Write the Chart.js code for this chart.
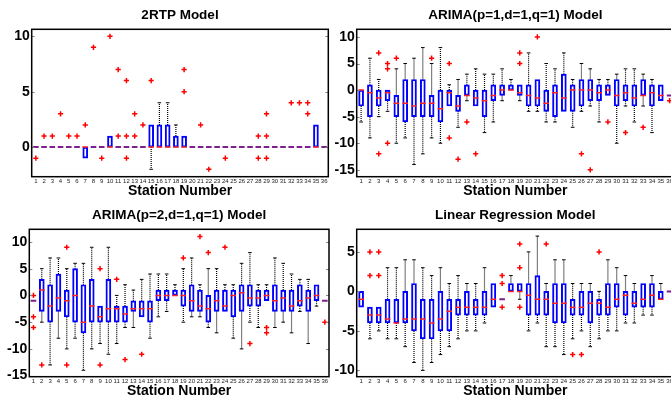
<!DOCTYPE html>
<html>
<head>
<meta charset="utf-8">
<script src="https://cdn.jsdelivr.net/npm/chart.js@4.4.1/dist/chart.umd.min.js"></script>
<style>
  html, body { margin: 0; padding: 0; background: #fff; overflow: hidden; width: 671px; height: 403px; }
  canvas { position: absolute; }
</style>
</head>
<body>
<canvas id="c1" width="335" height="200" style="left:0;top:0"></canvas>
<canvas id="c2" width="345" height="200" style="left:335px;top:0"></canvas>
<canvas id="c3" width="335" height="200" style="left:0;top:200px"></canvas>
<canvas id="c4" width="345" height="200" style="left:335px;top:200px"></canvas>
<script>
const stations = [1,2,3,4,5,6,7,8,9,10,11,12,13,14,15,16,17,18,19,20,21,22,23,24,25,26,27,28,29,30,31,32,33,34,35,36];

// 2RTP model
const rtpLo  = [0,0,0,0,0,0,-1,0,0,0,0,0,0,0,-2,0,0,0,0,0,0,0,0,0,0,0,0,0,0,0,0,0,0,0,0,0];
const rtpQ1  = [0,0,0,0,0,0,-1,0,0,0,0,0,0,0,0,0,0,0,0,0,0,0,0,0,0,0,0,0,0,0,0,0,0,0,0,0];
const rtpMed = [0,0,0,0,0,0,0,0,0,0,0,0,0,0,0,0,0,0,0,0,0,0,0,0,0,0,0,0,0,0,0,0,0,0,0,0];
const rtpQ3  = [0,0,0,0,0,0,0,0,0,1,0,0,0,0,2,2,2,1,1,0,0,0,0,0,0,0,0,0,0,0,0,0,0,0,2,0];
const rtpHi  = [0,0,0,0,0,0,0,0,0,1,0,0,0,0,2,4,4,2,1,0,0,0,0,0,0,0,0,0,0,0,0,0,0,0,2,0];
const rtpOut = [[-1],[1],[1],[3],[1],[1],[2],[9],[-1],[10],[7,1],[6,1,-1],[3,1],[2],[6],[],[],[],[7,5],[],[2],[-2],[],[-1],[],[],[],[1,-1],[3,1,-1],[],[],[4],[4],[4,3],[],[]];

// ARIMA(p=1,d=1,q=1)
const a1Lo  = [-6,-9,-5,-4,-10,-9,-14,-12,-9,-10,-3,-7,-2,-3,-8,-6,-2,0,-2,-4,-4,-6,-6,-4,-7,-4,-3,-6,-1,-10,-3,-6,-3,-8,-2,-1];
const a1Q1  = [-3,-5,-3,-2,-5,-6,-5,-5,-5,-6,-3,-4,-1,-3,-5,-2,-1,0,-1,-3,-3,-4,-5,-4,-4,-3,-2,-2,-1,-3,-2,-3,-1,-3,-2,-1];
const a1Med = [0,-0.5,-1.5,-0.5,-2.5,-2.5,-3,-2.5,-2.5,-3.5,-0.5,-3,-1,-1.5,-2,-1,0,0,-0.5,-1,-1.5,-2.5,-0.5,-1.5,0,0,0,-0.5,0,-1,-0.5,-1.5,-1,-0.5,-1,-1];
const a1Q3  = [0,1,0,0,-1,2,2,2,-1,0,0,-1,1,0,0,1,1,1,1,1,2,0,1,3,1,2,2,1,1,2,1,1,2,1,1,-1];
const a1Hi  = [0,6,2,0,4,5,6,8,5,8,1,2,3,4,3,3,4,2,1,7,2,5,4,7,2,5,4,2,2,3,4,4,3,2,1,-1];
const a1Out = [[],[],[7,-12],[5,4,-10],[6],[],[],[],[6],[],[5,-9],[-13],[-6],[-12],[],[],[],[],[7,5],[],[10],[],[],[],[],[-12],[-15],[],[-6],[],[-8],[],[-7],[],[],[-2]];

// ARIMA(p=2,d=1,q=1)
const a2Lo  = [-1,-5,-13,-8,-10,-8,-14,-10,-9,-11,-9,-6,-6,-4,-8,-4,-3,0,-5,-4,-4,-6,-7,-3,-8,-10,-5,-6,-1,-6,-5,-7,-3,-9,-2,-1];
const a2Q1  = [-1,-3,-5,-3,-4,-5,-7,-5,-5,-5,-5,-5,-3,-4,-5,-1,-1,0,-2,-3,-3,-5,-3,-3,-4,-3,-2,-2,-1,-3,-3,-3,-2,-3,-1,-1];
const a2Med = [-1,1,-2,-0.5,-1,0,-5,-2,-4,-2.5,-2.5,-3.5,-2.5,-2.5,-2.5,0,0,0,0,-1,-2,-2.5,-1,-2,0,0.5,-0.5,-0.5,0,-1,-0.5,-2,-1,-0.5,0,-1];
const a2Q3  = [-1,3,2,4,1,5,2,3,-2,3,-2,-2,-1,-1,-1,1,1,1,1,2,1,0,1,1,1,2,2,1,1,2,1,1,2,1,2,-1];
const a2Hi  = [-1,5,7,7,5,6,6,9,-2,9,0,2,1,3,4,4,4,2,5,7,2,5,5,2,2,6,8,2,2,7,6,4,3,3,2,-1];
const a2Out = [[0,-4,-6],[-13],[],[],[9,-13],[],[],[],[5,-13],[],[3],[-12],[],[-11],[],[],[],[],[7],[],[11],[8],[],[9],[],[],[-9],[],[-6,-7],[],[],[],[],[],[],[-5]];

// Linear regression
const lrLo  = [-2,-6,-5,-6,-6,-7,-9,-10,-9,-8,-7,-6,-5,-5,-4,-2,-1,0,-1,-5,-4,-7,-7,-8,-6,-5,-7,-6,-5,-5,-4,-4,-3,-3,-1,0];
const lrQ1  = [-2,-4,-4,-4,-4,-4,-5,-6,-6,-5,-5,-3,-3,-3,-3,-2,-1,0,0,-3,-3,-3,-4,-4,-3,-3,-4,-3,-3,-2,-3,-2,-2,-2,-1,0];
const lrMed = [-1,-3,-3,-3.5,-4,-3.5,-3.5,-3.5,-4,-3.5,-2.5,-2,-2,-2,-2,-1,-1,0,0,-0.5,-1,-1,-1.5,-1.5,-2,-2,-1.5,-1.5,-2,-1,-0.5,-1.5,-1,-0.5,-1,0];
const lrQ3  = [0,-2,-2,-1,-1,0,1,-1,-1,0,-1,-1,0,-1,0,1,-1,1,1,1,2,0,1,1,-1,0,0,-1,1,1,0,0,1,1,0,0];
const lrHi  = [0,-2,-2,3,3,4,4,3,2,3,1,2,1,1,3,1,-1,2,1,5,7,1,4,4,1,1,1,0,4,3,2,1,1,2,1,0];
const lrOut = [[],[5,2],[5,2],[],[],[],[],[],[],[],[],[],[],[],[],[],[2,1,-2],[],[6,3,-2],[],[],[6],[],[],[-8],[-8],[],[5],[],[],[],[],[],[],[],[]];

// y axis ranges and tick labels
const rtpRange = [-2.67, 10.63], rtpTicks = [0, 5, 10];
const a1Range = [-16.3, 11.44], a1Ticks = [-15, -10, -5, 0, 5, 10];
const a2Range = [-15.2, 12.36], a2Ticks = [-15, -10, -5, 0, 5, 10];
const lrRange = [-10.8, 7.86], lrTicks = [-10, -5, 0, 5];

Chart.defaults.font.family = '"Liberation Sans", Arial, sans-serif';

const frame = {
    id: "frame",
    afterDraw(chart) {
        const { ctx, chartArea: a, scales: { y } } = chart;
        ctx.save();
        ctx.strokeStyle = "#888";
        ctx.lineWidth = 1;
        y.ticks.forEach((t) => {
            const py = Math.round(y.getPixelForValue(t.value)) + 0.5;
            ctx.beginPath();
            ctx.moveTo(a.left, py);
            ctx.lineTo(a.left + 3, py);
            ctx.moveTo(a.right - 3, py);
            ctx.lineTo(a.right, py);
            ctx.stroke();
        });
        ctx.strokeStyle = "#000";
        ctx.lineWidth = 1.5;
        ctx.strokeRect(a.left, a.top, a.right - a.left, a.bottom - a.top);
        ctx.restore();
    },
};

function makePanel(id, title, lo, q1, med, q3, hi, out, range, yTicks, leftW, rightPad) {
    const ctx = document.getElementById(id).getContext("2d");
    const flat = (q1i, q3i) => q1i === q3i;

    const boxes = stations.map((s, i) => ({ x: s, y: [q1[i], q3[i]] }));
    const medians = stations.map((s, i) => ({ x: s, y: med[i] }));
    const whiskers = [];
    const caps = [];
    const outliers = [];
    stations.forEach((s, i) => {
        whiskers.push({ x: s, y: q3[i] }, { x: s, y: hi[i] }, { x: s, y: null });
        whiskers.push({ x: s, y: q1[i] }, { x: s, y: lo[i] }, { x: s, y: null });
        if (hi[i] > q3[i]) caps.push({ x: s, y: hi[i] });
        if (lo[i] < q1[i]) caps.push({ x: s, y: lo[i] });
        out[i].forEach((v) => outliers.push({ x: s, y: v }));
    });

    return new Chart(ctx, {
        type: "bar",
        data: {
            datasets: [
                {
                    type: "scatter",
                    data: outliers,
                    order: 0,
                    pointStyle: "cross",
                    pointRadius: 2.6,
                    pointBorderColor: "#ff0000",
                    pointBorderWidth: 1.5,
                },
                {
                    type: "scatter",
                    data: medians,
                    order: 1,
                    pointStyle: "line",
                    pointRadius: 2.8,
                    pointBorderColor: stations.map((s, i) => (flat(q1[i], q3[i]) ? "#7d1f8c" : "#ff2020")),
                    pointBorderWidth: stations.map((s, i) => (flat(q1[i], q3[i]) ? 2 : 1.5)),
                },
                {
                    type: "bar",
                    data: boxes,
                    order: 2,
                    barThickness: 5,
                    backgroundColor: "rgba(0,0,0,0)",
                    borderColor: "#0000ff",
                    borderWidth: 1.3,
                    borderSkipped: false,
                },
                {
                    type: "scatter",
                    data: caps,
                    order: 3,
                    pointStyle: "line",
                    pointRadius: 1.8,
                    pointBorderColor: "#000",
                    pointBorderWidth: 1,
                },
                {
                    type: "line",
                    data: whiskers,
                    order: 4,
                    borderColor: "#000",
                    borderWidth: 1.2,
                    borderDash: [1, 1],
                    pointRadius: 0,
                    spanGaps: false,
                    tension: 0,
                },
            ],
        },
        options: {
            responsive: false,
            animation: false,
            devicePixelRatio: 1,
            events: [],
            layout: { padding: { left: 0, right: rightPad, top: 0, bottom: 0 } },
            plugins: {
                legend: { display: false },
                tooltip: { enabled: false },
                title: {
                    display: true,
                    text: title,
                    fullSize: false,
                    color: "#000",
                    font: { size: 13.5, weight: "bold", lineHeight: 1 },
                    padding: { top: 8.3, bottom: 7.5 },
                },
            },
            scales: {
                x: {
                    type: "linear",
                    min: 0.5,
                    max: 36.5,
                    offset: false,
                    bounds: "data",
                    grid: { display: false, drawTicks: false },
                    border: { display: false },
                    afterBuildTicks: (s) => { s.ticks = stations.map((v) => ({ value: v })); },
                    afterFit: (s) => { s.height = 23.3; },
                    ticks: { autoSkip: false, maxRotation: 0, minRotation: 0, padding: 1.5, color: "#222", font: { size: 6 } },
                    title: {
                        display: true,
                        text: "Station Number",
                        color: "#000",
                        font: { size: 14, weight: "bold", lineHeight: 1 },
                        padding: { top: 0, bottom: 2 },
                    },
                },
                y: {
                    min: range[0],
                    max: range[1],
                    bounds: "data",
                    grid: { display: false, drawTicks: false },
                    border: { display: false },
                    afterBuildTicks: (s) => { s.ticks = yTicks.map((v) => ({ value: v })); },
                    afterFit: (s) => { s.width = leftW; },
                    ticks: { padding: 2, color: "#000", font: { size: 14, weight: "bold" } },
                },
            },
        },
        plugins: [frame],
    });
}

makePanel("c1", "2RTP Model", rtpLo, rtpQ1, rtpMed, rtpQ3, rtpHi, rtpOut, rtpRange, rtpTicks, 31.7, 6.7);
makePanel("c2", "ARIMA(p=1,d=1,q=1) Model", a1Lo, a1Q1, a1Med, a1Q3, a1Hi, a1Out, a1Range, a1Ticks, 21.7, 5.4);
makePanel("c3", "ARIMA(p=2,d=1,q=1) Model", a2Lo, a2Q1, a2Med, a2Q3, a2Hi, a2Out, a2Range, a2Ticks, 29.3, 5);
makePanel("c4", "Linear Regression Model", lrLo, lrQ1, lrMed, lrQ3, lrHi, lrOut, lrRange, lrTicks, 21.7, 5.4);
</script>
</body>
</html>
